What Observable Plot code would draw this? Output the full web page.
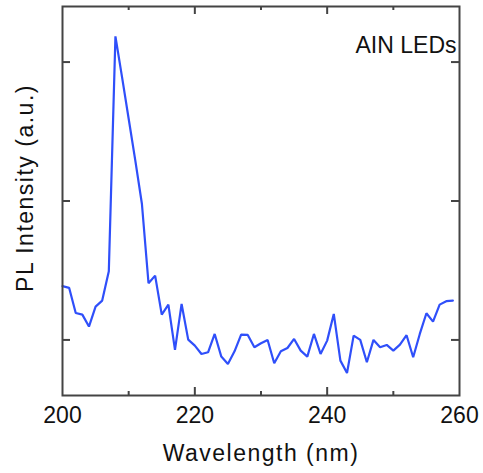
<!DOCTYPE html>
<html>
<head>
<meta charset="utf-8">
<script src="https://cdn.jsdelivr.net/npm/d3@7"></script>
<script src="https://cdn.jsdelivr.net/npm/@observablehq/plot@0.6"></script>
<style>
  html, body { margin: 0; padding: 0; background: #fff; }
  svg { display: block; }
</style>
</head>
<body>
<div id="chart"></div>
<script>
const wavelength = d3.range(200, 260); // 200..259 nm, 1 nm steps
const intensity = [
  1.387, 1.375, 1.194, 1.182, 1.096, 1.240, 1.283, 1.495, 3.185, 2.892,
  2.592, 2.292, 1.980, 1.408, 1.463, 1.182, 1.254, 0.928, 1.259, 1.002,
  0.959, 0.899, 0.911, 1.043, 0.880, 0.827, 0.918, 1.038, 1.036, 0.947,
  0.976, 1.000, 0.832, 0.918, 0.942, 1.007, 0.923, 0.880, 1.043, 0.899,
  0.995, 1.187, 0.851, 0.762, 1.031, 1.000, 0.839, 1.000, 0.947, 0.964,
  0.923, 0.966, 1.034, 0.875, 1.043, 1.192, 1.132, 1.254, 1.279, 1.283
];
const xMajorTicks = [200, 220, 240, 260];
const xMinorTicks = [210, 230, 250];
const yTicks = [1, 2, 3];
const xLabel = "Wavelength (nm)";
const yLabel = "PL Intensity (a.u.)";
const annotation = "AIN LEDs";

const data = wavelength.map((w, i) => ({w, v: intensity[i]}));

const W = 483, H = 473;
const mL = 62, mR = 24, mT = 6, mB = 78;
const pw = W - mL - mR, ph = H - mT - mB;
const axisColor = "#444";
const font = "Liberation Sans, Arial, Helvetica, sans-serif";

const chart = Plot.plot({
  width: W,
  height: H,
  marginLeft: mL,
  marginRight: mR,
  marginTop: mT,
  marginBottom: mB,
  style: {fontFamily: font, fontSize: "23px", color: "#111", background: "#fff"},
  x: {domain: [200, 260]},
  y: {domain: [0.6, 3.4]},
  marks: [
    // inward ticks: bottom & top
    Plot.tickX(xMajorTicks.filter(d => d > 200 && d < 260), {x: d => d, insetTop: ph - 8, stroke: axisColor, strokeWidth: 2}),
    Plot.tickX(xMinorTicks, {x: d => d, insetTop: ph - 4, stroke: axisColor, strokeWidth: 2}),
    Plot.tickX(xMajorTicks.filter(d => d > 200 && d < 260), {x: d => d, insetBottom: ph - 8, stroke: axisColor, strokeWidth: 2}),
    Plot.tickX(xMinorTicks, {x: d => d, insetBottom: ph - 4, stroke: axisColor, strokeWidth: 2}),
    // inward ticks: left & right
    Plot.tickY(yTicks, {y: d => d, insetRight: pw - 8, stroke: axisColor, strokeWidth: 2}),
    Plot.tickY(yTicks, {y: d => d, insetLeft: pw - 8, stroke: axisColor, strokeWidth: 2}),
    Plot.line(data, {x: "w", y: "v", stroke: "#2f4ffa", strokeWidth: 2.2, strokeLinejoin: "miter"}),
    Plot.frame({stroke: axisColor, strokeWidth: 2}),
    Plot.axisX({ticks: xMajorTicks, tickSize: 0, tickPadding: 11, label: null, fontSize: 23, fill: "#111"}),
    Plot.axisY({ticks: [], label: null}),
    Plot.text([xLabel], {text: d => d, frameAnchor: "bottom", textAnchor: "middle", lineAnchor: "middle", dy: 58, fontSize: 23, fill: "#111"}),
    Plot.text([yLabel], {text: d => d, frameAnchor: "left", textAnchor: "middle", lineAnchor: "middle", rotate: -90, dx: -37, dy: -13, fontSize: 23, fill: "#111"}),
    Plot.text([annotation], {text: d => d, frameAnchor: "top-right", textAnchor: "end", lineAnchor: "middle", dx: -3, dy: 39, fontSize: 23, fill: "#111"})
  ]
});
d3.select(chart).selectAll("text")
  .filter(function () { const t = this.textContent; return t === xLabel || t === yLabel; })
  .attr("letter-spacing", "1.5px");
document.getElementById("chart").appendChild(chart);
</script>
</body>
</html>
